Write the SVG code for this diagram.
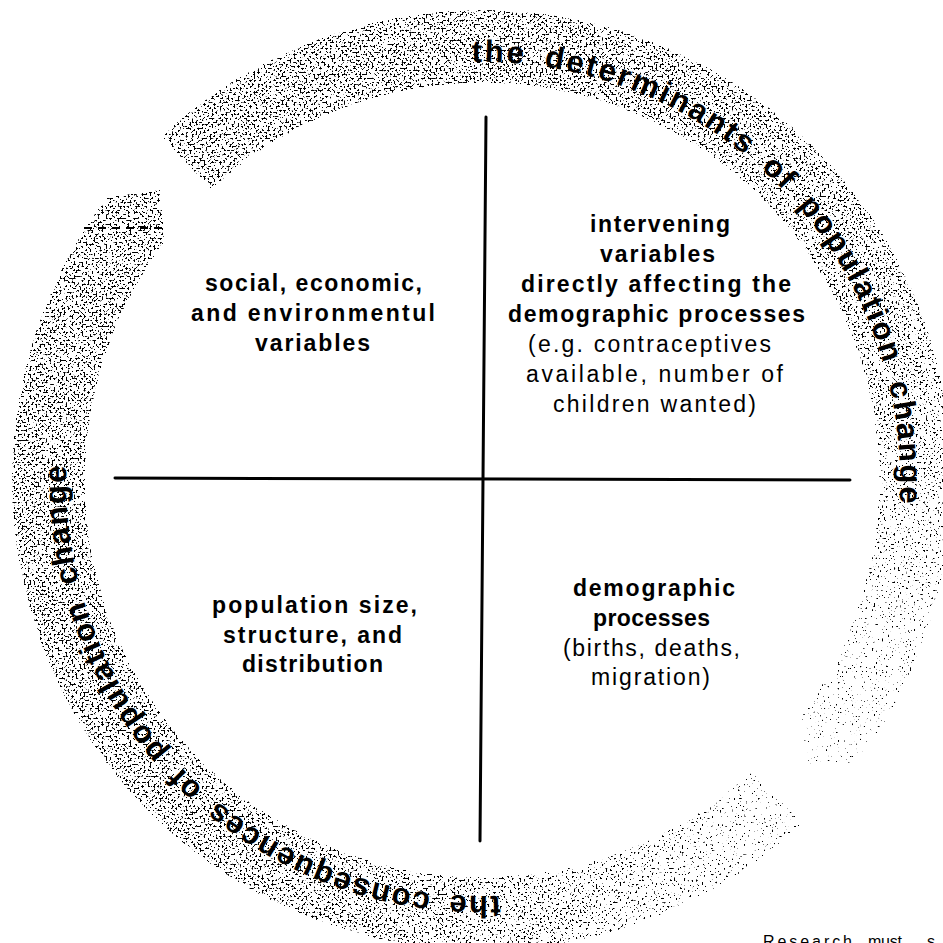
<svg xmlns="http://www.w3.org/2000/svg" width="943" height="943" viewBox="0 0 943 943">
  <defs>
    <style>
      .q { font-family: "Liberation Sans", Arial, sans-serif; font-size: 23px; fill: #000; text-anchor: middle; }
      .b { font-weight: bold; }
      .ring { font-family: "Liberation Sans", Arial, sans-serif; font-size: 31px; font-weight: bold; fill: #000; word-spacing: 7px; }
      .rule { stroke: #000; stroke-width: 3; fill: none; stroke-linecap: round; }
      .note { font-family: "Liberation Sans", Arial, sans-serif; font-size: 16px; fill: #000; }
    </style>

    <!-- stippled grain: noise thresholded against the band's density (alpha) -->
    <filter id="stipple" filterUnits="userSpaceOnUse" x="0" y="0" width="943" height="943" color-interpolation-filters="sRGB">
      <feTurbulence type="fractalNoise" baseFrequency="0.5" numOctaves="2" seed="7" result="noise"/>
      <feColorMatrix in="noise" type="matrix" values="0 0 0 0 0  0 0 0 0 0  0 0 0 0 0  1 0 0 0 0" result="na"/>
      <feComposite in="na" in2="SourceAlpha" operator="arithmetic" k1="0" k2="22" k3="5" k4="-17.4"/>
    </filter>

    <!-- grain density: thinner towards the lower right -->
    <radialGradient id="density" gradientUnits="userSpaceOnUse" cx="870" cy="770" r="760">
      <stop offset="0" stop-color="#000" stop-opacity="0.4"/>
      <stop offset="0.3" stop-color="#000" stop-opacity="0.6"/>
      <stop offset="0.6" stop-color="#000" stop-opacity="0.88"/>
      <stop offset="1" stop-color="#000" stop-opacity="1"/>
    </radialGradient>

    <!-- ring bands, centre (482,480), radii 397..470 -->
    <path id="bandDet" d="M161.5,136.2 A470,470 0 0 1 857.4,762.8 L809.2,764.4 L799.0,718.9 A397,397 0 0 0 211.2,189.6 Z"/>
    <path id="bandCon" d="M802.5,823.8 A470,470 0 0 1 106.6,197.2 L159.9,189.9 L165.0,241.1 A397,397 0 0 0 752.8,770.4 Z"/>
    <clipPath id="clipDet"><use href="#bandDet"/></clipPath>
    <clipPath id="clipCon"><use href="#bandCon"/></clipPath>

    <!-- baselines for the ring lettering -->
    <path id="pDet" d="M471.8,62.1 A418,418 0 0 1 885.8,588.2"/>
    <path id="pCon" d="M500.1,895.6 A416,416 0 0 1 80.2,372.3"/>
  </defs>

  <rect width="943" height="943" fill="#fff"/>

  <!-- upper arc: the determinants -->
  <g id="determinants">
    <g clip-path="url(#clipDet)">
      <use href="#bandDet" fill="url(#density)" filter="url(#stipple)"/>
    </g>
    <text class="ring" letter-spacing="2.5"><textPath href="#pDet">the determinants of population change</textPath></text>
  </g>

  <!-- lower arc: the consequences -->
  <g id="consequences">
    <g clip-path="url(#clipCon)">
      <use href="#bandCon" fill="url(#density)" filter="url(#stipple)"/>
    </g>
    <line x1="84" y1="228" x2="163" y2="228" stroke="#000" stroke-width="2" stroke-dasharray="8 6"/>
    <text class="ring" letter-spacing="1.8"><textPath href="#pCon">the consequences of population change</textPath></text>
  </g>

  <!-- dividing cross -->
  <g id="connectors">
    <line class="rule" x1="486" y1="117" x2="480" y2="841"/>
    <line class="rule" x1="115" y1="478" x2="850" y2="480"/>
  </g>

  <g id="social-variables">
    <text class="q b" x="313.5" y="291" textLength="217" lengthAdjust="spacing">social, economic,</text>
    <text class="q b" x="313" y="321" textLength="244" lengthAdjust="spacing">and environmentul</text>
    <text class="q b" x="312.5" y="351" textLength="115" lengthAdjust="spacing">variables</text>
  </g>

  <g id="intervening-variables">
    <text class="q b" x="660" y="232" textLength="140" lengthAdjust="spacing">intervening</text>
    <text class="q b" x="657.5" y="262" textLength="115" lengthAdjust="spacing">variables</text>
    <text class="q b" x="656" y="292" textLength="270" lengthAdjust="spacing">directly affecting the</text>
    <text class="q b" x="656.5" y="322" textLength="297" lengthAdjust="spacing">demographic processes</text>
    <text class="q" x="649.5" y="352" textLength="243" lengthAdjust="spacing">(e.g. contraceptives</text>
    <text class="q" x="654.5" y="382" textLength="257" lengthAdjust="spacing">available, number of</text>
    <text class="q" x="654.5" y="412" textLength="203" lengthAdjust="spacing">children wanted)</text>
  </g>

  <g id="population-structure">
    <text class="q b" x="314.5" y="613" textLength="205" lengthAdjust="spacing">population size,</text>
    <text class="q b" x="312.5" y="643" textLength="179" lengthAdjust="spacing">structure, and</text>
    <text class="q b" x="312.5" y="672" textLength="141" lengthAdjust="spacing">distribution</text>
  </g>

  <g id="demographic-processes">
    <text class="q b" x="654" y="596" textLength="162" lengthAdjust="spacing">demographic</text>
    <text class="q b" x="651.5" y="626" textLength="117" lengthAdjust="spacing">processes</text>
    <text class="q" x="651.5" y="656" textLength="177" lengthAdjust="spacing">(births, deaths,</text>
    <text class="q" x="650.5" y="685" textLength="119" lengthAdjust="spacing">migration)</text>
  </g>

  <text class="note" y="947"><tspan x="763" textLength="89" lengthAdjust="spacing">Research</tspan><tspan x="868" textLength="34" lengthAdjust="spacing">must</tspan><tspan x="927">s</tspan></text>
</svg>
